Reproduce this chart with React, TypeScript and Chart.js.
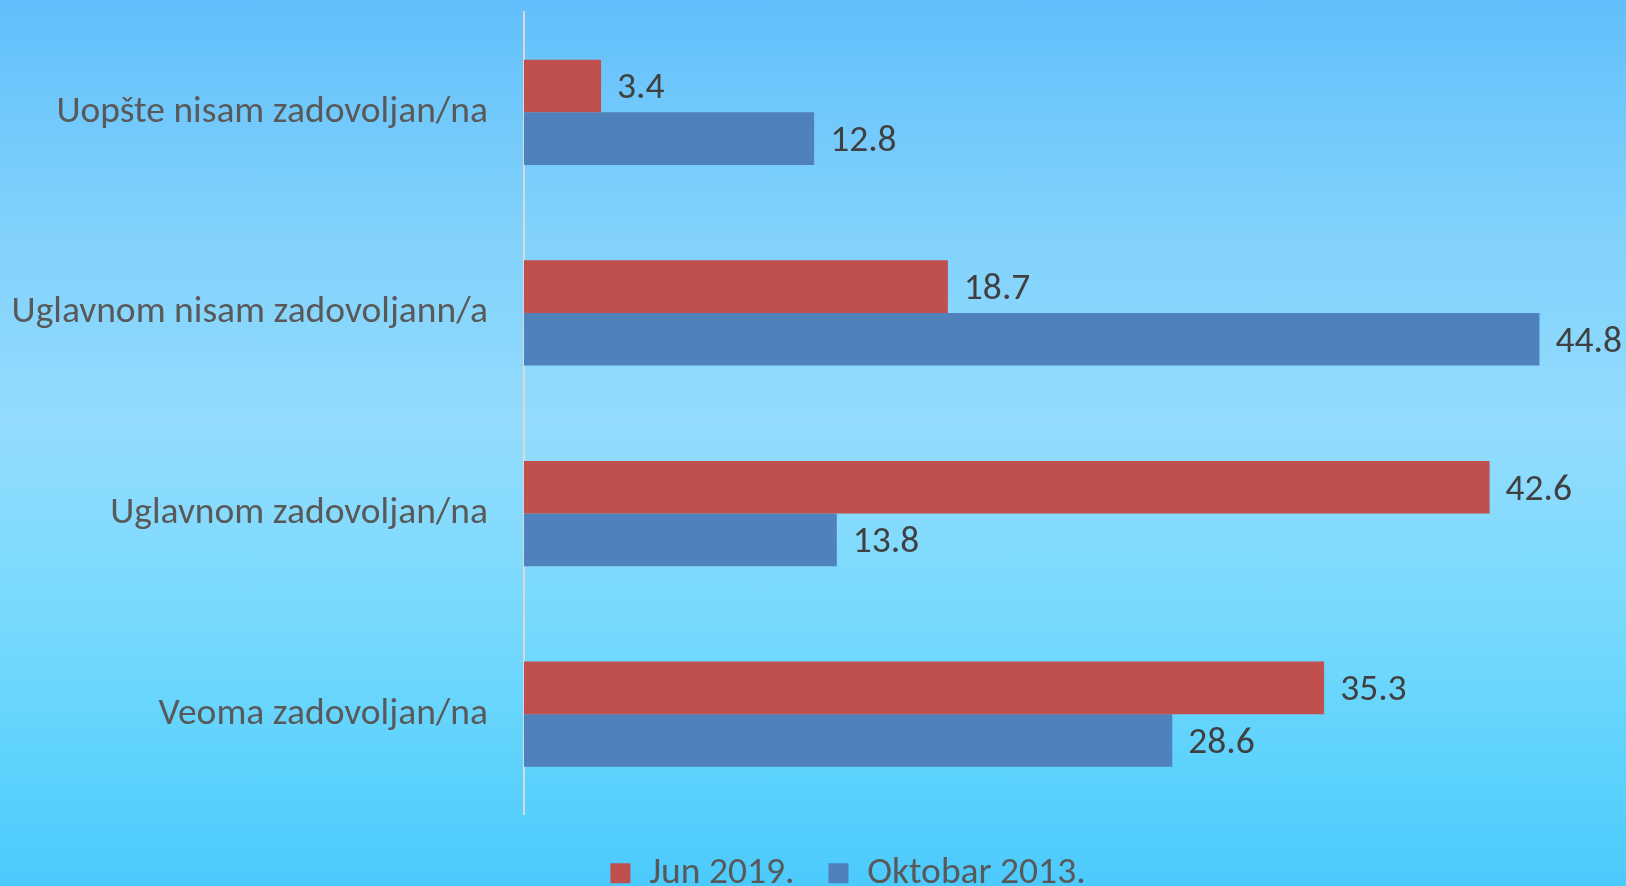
import React, { useEffect, useRef } from "react";
import { Chart, registerables } from "chart.js";

Chart.register(...registerables);

const categories = [
  "Uopšte nisam zadovoljan/na",
  "Uglavnom nisam zadovoljann/a",
  "Uglavnom zadovoljan/na",
  "Veoma zadovoljan/na",
];
const seriesNames = ["Jun 2019.", "Oktobar 2013."];
const jun2019 = [3.4, 18.7, 42.6, 35.3];
const oktobar2013 = [12.8, 44.8, 13.8, 28.6];
const seriesColors = ["#C0504D", "#4F81BD"];
const axisMin = 0;
const axisMax = 45;

const FONT = "Carlito, Lato, sans-serif";
const FONT_SIZE = 37.5;

const valueLabels = {
  id: "valueLabels",
  afterDatasetsDraw(chart: any) {
    const ctx = chart.ctx;
    ctx.save();
    ctx.font = `${FONT_SIZE}px ${FONT}`;
    ctx.fillStyle = "#404040";
    ctx.textAlign = "left";
    ctx.textBaseline = "middle";
    chart.data.datasets.forEach((ds: any, i: number) => {
      const meta = chart.getDatasetMeta(i);
      meta.data.forEach((bar: any, j: number) => {
        const v = ds.data[j];
        ctx.fillText(Number(v).toFixed(1), bar.x + 16, bar.y + 3);
      });
    });
    ctx.restore();
  },
};

const legendShift = {
  id: "legendShift",
  afterLayout(chart: any) {
    const lg = chart.legend;
    if (lg) {
      lg.left += 76;
      lg.right += 76;
    }
  },
};

export default function App() {
  const ref = useRef<HTMLCanvasElement>(null);

  useEffect(() => {
    if (!ref.current) return;
    const chart = new Chart(ref.current, {
      type: "bar",
      data: {
        labels: categories,
        datasets: [
          {
            label: seriesNames[0],
            data: jun2019,
            backgroundColor: seriesColors[0],
            barPercentage: 1,
            categoryPercentage: 0.524,
          },
          {
            label: seriesNames[1],
            data: oktobar2013,
            backgroundColor: seriesColors[1],
            barPercentage: 1,
            categoryPercentage: 0.524,
          },
        ],
      },
      options: {
        indexAxis: "y",
        responsive: false,
        animation: false,
        layout: { padding: { top: 12, right: 82, bottom: -16, left: 0 } },
        scales: {
          x: {
            min: axisMin,
            max: axisMax,
            grid: { display: false },
            border: { display: false },
            ticks: { display: false },
            afterFit(scale: any) {
              scale.height = 6;
              scale.paddingLeft = 0;
              scale.paddingRight = 0;
            },
          },
          y: {
            grid: { display: false },
            border: { display: true, color: "#D9D9D9", width: 2 },
            ticks: {
              color: "#595959",
              padding: 28,
              font: { family: FONT, size: FONT_SIZE },
            },
            afterFit(scale: any) {
              scale.width = 524;
              scale.paddingTop = 0;
              scale.paddingBottom = 0;
            },
          },
        },
        plugins: {
          legend: {
            position: "bottom",
            labels: {
              boxWidth: 20,
              boxHeight: 20,
              padding: 34,
              color: "#595959",
              font: { family: FONT, size: FONT_SIZE },
            },
          },
          tooltip: { enabled: false },
        },
      },
      plugins: [valueLabels, legendShift],
    });
    return () => chart.destroy();
  }, []);

  return (
    <div
      style={{
        position: "fixed",
        left: 0,
        top: 0,
        width: 1626,
        height: 886,
        overflow: "hidden",
        background:
          "linear-gradient(to bottom, #62bffb 0%, #80d1fc 25%, #93dcfd 48%, #7adafd 68%, #5fd3fd 85%, #4ccafc 100%)",
      }}
    >
      <canvas ref={ref} width={1626} height={886} style={{ display: "block" }} />
    </div>
  );
}
